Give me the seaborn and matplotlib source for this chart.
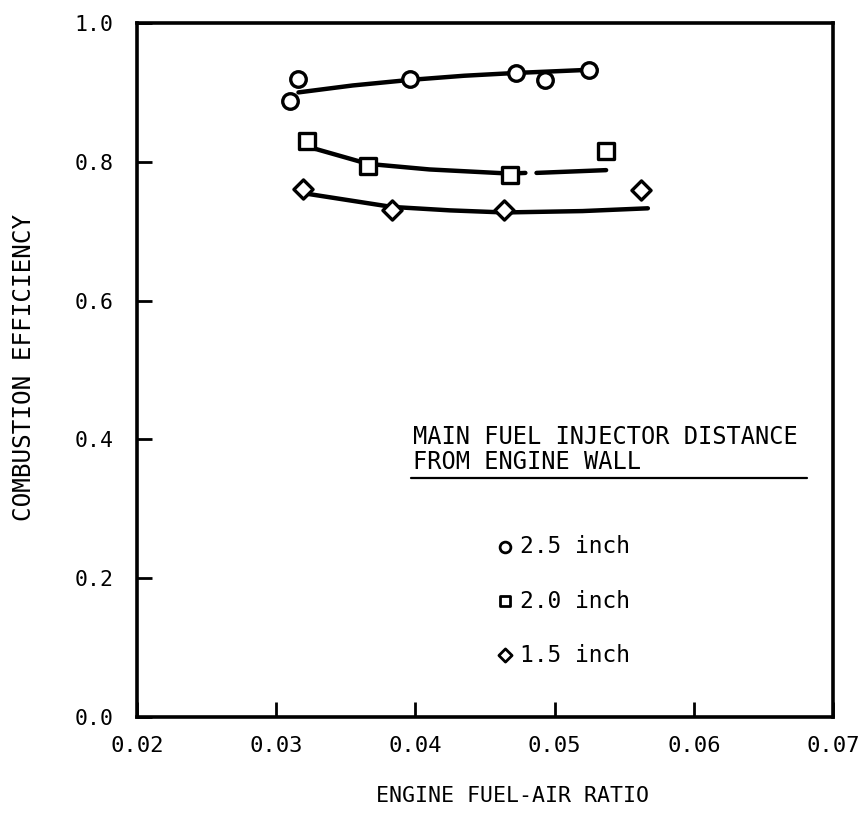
import matplotlib
matplotlib.use("Agg")
import matplotlib.pyplot as plt
import seaborn as sns
import pandas as pd
import numpy as np

circ_x = [0.0310, 0.0316, 0.0396, 0.0472, 0.0493, 0.0525]
circ_y = [0.887, 0.919, 0.919, 0.928, 0.918, 0.932]
sq_x = [0.0322, 0.0366, 0.0468, 0.0537]
sq_y = [0.830, 0.794, 0.781, 0.816]
dia_x = [0.0319, 0.0383, 0.0464, 0.0562]
dia_y = [0.761, 0.731, 0.730, 0.759]

circ_fit_x = [0.0316, 0.0355, 0.0396, 0.0435, 0.0472, 0.0530]
circ_fit_y = [0.900, 0.910, 0.918, 0.924, 0.928, 0.933]
sq_fit_x1 = [0.0324, 0.0366, 0.0410, 0.0468, 0.0479]
sq_fit_y1 = [0.821, 0.797, 0.789, 0.783, 0.784]
sq_fit_x2 = [0.0487, 0.0537]
sq_fit_y2 = [0.784, 0.788]
dia_fit_x = [0.0322, 0.0383, 0.0425, 0.0464, 0.0520, 0.0567]
dia_fit_y = [0.754, 0.735, 0.730, 0.727, 0.729, 0.733]

legend_labels = ["2.5 inch", "2.0 inch", "1.5 inch"]
legend_markers = ["o", "s", "D"]
xticks = [0.02, 0.03, 0.04, 0.05, 0.06, 0.07]
yticks = [0.0, 0.2, 0.4, 0.6, 0.8, 1.0]

sns.set_style("ticks")
plt.rcParams['font.family'] = ['DejaVu Sans Mono']
plt.rcParams['text.color'] = 'black'
plt.rcParams['axes.labelcolor'] = 'black'

fig = plt.figure(figsize=(8.63, 8.18), dpi=100)
ax = fig.add_axes([137/863, 1-717/818, (833-137)/863, (717-23)/818])

lw = 3.2
sns.lineplot(x=circ_fit_x, y=circ_fit_y, ax=ax, color="black", lw=lw, sort=False)
sns.lineplot(x=sq_fit_x1, y=sq_fit_y1, ax=ax, color="black", lw=lw, sort=False)
sns.lineplot(x=sq_fit_x2, y=sq_fit_y2, ax=ax, color="black", lw=lw, sort=False)
sns.lineplot(x=dia_fit_x, y=dia_fit_y, ax=ax, color="black", lw=lw, sort=False)

mk = dict(facecolor="white", edgecolor="black", linewidth=2.4, zorder=5, ax=ax)
sns.scatterplot(x=circ_x, y=circ_y, marker="o", s=125, **mk)
sns.scatterplot(x=sq_x, y=sq_y, marker="s", s=120, **mk)
sns.scatterplot(x=dia_x, y=dia_y, marker="D", s=95, **mk)

ax.set_xlim(0.02, 0.07)
ax.set_ylim(0.0, 1.0)
ax.set_xticks(xticks)
ax.set_yticks(yticks)
ax.set_xticklabels([f"{v:.2f}" for v in xticks], fontsize=16)
ax.set_yticklabels([f"{v:.1f}" for v in yticks], fontsize=15.5)
ax.tick_params(axis="both", direction="in", length=11, width=2, colors="black")
ax.tick_params(axis="x", pad=14)
ax.tick_params(axis="y", pad=17)
for s in ax.spines.values():
    s.set_linewidth(2.6)
    s.set_color("black")

ax.set_xlabel("ENGINE FUEL-AIR RATIO", fontsize=15.5)
ax.set_ylabel("COMBUSTION EFFICIENCY", fontsize=17.5)
ax.xaxis.set_label_coords((512 - 137) / 696, (717 - 786) / 694)
ax.yaxis.set_label_coords((36 - 137) / 696, (717 - 367) / 694)

# legend block
ax.text(0.0398, 0.4035, "MAIN FUEL INJECTOR DISTANCE", fontsize=17, va="center", ha="left")
ax.text(0.0398, 0.3674, "FROM ENGINE WALL", fontsize=17, va="center", ha="left")
ax.plot([0.0397, 0.0681], [0.3444, 0.3444], color="black", lw=1.6)
leg_y = [0.245, 0.167, 0.0893]
leg_sizes = [60, 55, 45]
for lab, m, yy, ss in zip(legend_labels, legend_markers, leg_y, leg_sizes):
    sns.scatterplot(x=[0.04644], y=[yy], marker=m, s=ss, facecolor="white",
                    edgecolor="black", linewidth=2, ax=ax, zorder=5)
    ax.text(0.04752, yy, lab, fontsize=16.5, va="center", ha="left")

fig.savefig("out.png", dpi=100)
